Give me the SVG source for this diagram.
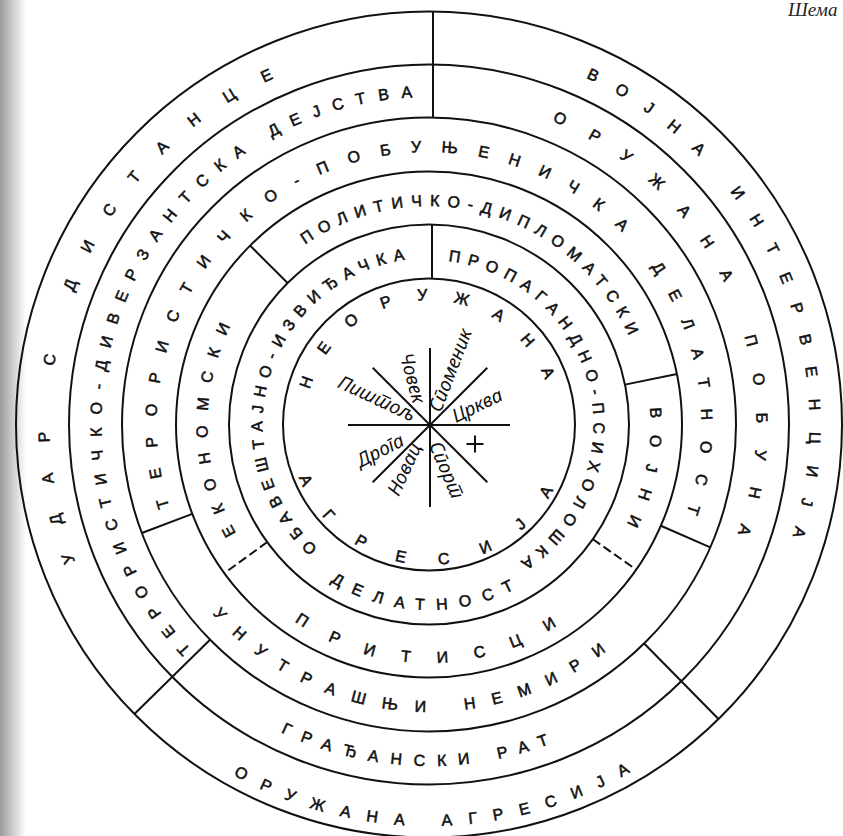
<svg xmlns="http://www.w3.org/2000/svg" width="843" height="836" viewBox="0 0 843 836">
<defs>
<linearGradient id="edge" x1="0" x2="1" y1="0" y2="0">
<stop offset="0" stop-color="#9c9c9c"/>
<stop offset="0.45" stop-color="#c9c9c9"/>
<stop offset="1" stop-color="#ffffff"/>
</linearGradient>
<path id="pA1" d="M85.90 586.68 A379.5 379.5 0 0 1 299.20 67.89"/>
<path id="pA2" d="M560.39 67.40 A380.5 380.5 0 0 1 783.75 562.10"/>
<path id="pA3" d="M207.98 759.69 A401.5 401.5 0 0 0 655.31 756.15"/>
<path id="pB1" d="M207.32 665.57 A327.5 327.5 0 0 1 435.29 97.06"/>
<path id="pB2" d="M530.75 113.20 A327.5 327.5 0 0 1 729.56 554.57"/>
<path id="pB3" d="M259.28 720.84 A341.5 341.5 0 0 0 571.70 734.76"/>
<path id="pC1" d="M175.28 523.93 A272.5 272.5 0 1 1 680.39 529.66"/>
<path id="pC2" d="M200.40 598.85 A287.5 287.5 0 0 0 621.00 638.49"/>
<path id="pD1" d="M243.23 545.14 A221.5 221.5 0 0 1 236.98 314.08"/>
<path id="pD2" d="M294.18 252.55 A218.5 218.5 0 0 1 633.80 348.34"/>
<path id="pD3" d="M648.40 394.06 A221.5 221.5 0 0 1 620.24 536.25"/>
<path id="pD4" d="M282.17 612.44 A238.5 238.5 0 0 0 569.52 617.21"/>
<path id="pE1" d="M324.22 553.89 A166.5 166.5 0 0 1 413.62 258.71"/>
<path id="pE2" d="M439.62 260.34 A164.5 164.5 0 0 1 513.00 565.95"/>
<path id="pE3" d="M321.81 575.89 A185.5 185.5 0 0 0 523.43 584.17"/>
<path id="pF1" d="M308.20 394.38 A124.5 124.5 0 0 1 546.93 384.58"/>
<path id="pF2" d="M296.56 471.40 A140.5 140.5 0 0 0 556.23 484.10"/>
</defs>
<style>
.ring{fill:none;stroke:#111;stroke-width:2}
.div{fill:none;stroke:#111;stroke-width:2}
.dash{stroke-dasharray:9 4}
.lbl{font-family:"Liberation Sans",Arial,sans-serif;font-size:16px;fill:#111;stroke:#111;stroke-width:0.55px;text-anchor:middle}
.cur{font-family:"Noto Sans",sans-serif;font-style:italic;font-size:19px;fill:#111;text-anchor:middle;dominant-baseline:central}
.title{font-family:"Liberation Serif",serif;font-style:italic;font-size:19px;fill:#222}
</style>
<rect x="0" y="0" width="843" height="836" fill="#ffffff"/>
<rect x="0" y="0" width="26" height="836" fill="url(#edge)"/>
<text class="title" x="788" y="16">Шема</text>

<g id="rings">
<circle class="ring" cx="429" cy="424.5" r="413"/>
<circle class="ring" cx="429" cy="424.5" r="360"/>
<circle class="ring" cx="429" cy="424.5" r="307"/>
<circle class="ring" cx="429" cy="424.5" r="253"/>
<circle class="ring" cx="429" cy="424.5" r="200"/>
<circle class="ring" cx="429" cy="424.5" r="146"/>
</g>

<g id="connectors">
<line class="div" x1="433" y1="11.5" x2="433" y2="117.5"/>
<line class="div" x1="210.03" y1="639.68" x2="134.43" y2="713.98"/>
<line class="div" x1="644.18" y1="643.47" x2="718.48" y2="719.07"/>
<line class="div" x1="192.33" y1="513.93" x2="141.82" y2="533.02"/>
<line class="div" x1="660.84" y1="525.79" x2="710.32" y2="547.41"/>
<line class="div" x1="287.58" y1="283.08" x2="250.10" y2="245.60"/>
<line class="div" x1="624.98" y1="384.63" x2="676.92" y2="374.06"/>
<line class="div dash" x1="267.20" y1="542.06" x2="224.32" y2="573.21"/>
<line class="div dash" x1="592.83" y1="539.22" x2="636.24" y2="569.61"/>
<line class="div" x1="432" y1="224.5" x2="432" y2="278.5"/>
</g>

<g id="ring-a">
<g id="udar-s-distance"><text class="lbl"><textPath href="#pA1" startOffset="50%" textLength="576" lengthAdjust="spacing">УДАР С ДИСТАНЦЕ</textPath></text></g>
<g id="vojna-intervencija"><text class="lbl"><textPath href="#pA2" startOffset="50%" textLength="549" lengthAdjust="spacing">ВОЈНА ИНТЕРВЕНЦИЈА</textPath></text></g>
<g id="oruzana-agresija"><text class="lbl"><textPath href="#pA3" startOffset="50%" textLength="415" lengthAdjust="spacing">ОРУЖАНА АГРЕСИЈА</textPath></text></g>
</g>

<g id="ring-b">
<g id="teroristicko-diverzantska"><text class="lbl"><textPath href="#pB1" startOffset="50%" textLength="745.5" lengthAdjust="spacing">ТЕРОРИСТИЧКО-ДИВЕРЗАНТСКА ДЕЈСТВА</textPath></text></g>
<g id="oruzana-pobuna"><text class="lbl"><textPath href="#pB2" startOffset="50%" textLength="498.6" lengthAdjust="spacing">ОРУЖАНА ПОБУНА</textPath></text></g>
<g id="gradjanski-rat"><text class="lbl"><textPath href="#pB3" startOffset="50%" textLength="276" lengthAdjust="spacing">ГРАЂАНСКИ РАТ</textPath></text></g>
</g>

<g id="ring-c">
<g id="teroristicko-pobunjenicka"><text class="lbl"><textPath href="#pC1" startOffset="50%" textLength="1029" lengthAdjust="spacing">ТЕРОРИСТИЧКО-ПОБУЊЕНИЧКА ДЕЛАТНОСТ</textPath></text></g>
<g id="unutrasnji-nemiri"><text class="lbl"><textPath href="#pC2" startOffset="50%" textLength="435.5" lengthAdjust="spacing">УНУТРАШЊИ НЕМИРИ</textPath></text></g>
</g>

<g id="ring-d">
<g id="ekonomski"><text class="lbl"><textPath href="#pD1" startOffset="50%" textLength="215.5" lengthAdjust="spacing">ЕКОНОМСКИ</textPath></text></g>
<g id="politicko-diplomatski"><text class="lbl"><textPath href="#pD2" startOffset="50%" textLength="383.6" lengthAdjust="spacing">ПОЛИТИЧКО-ДИПЛОМАТСКИ</textPath></text></g>
<g id="vojni"><text class="lbl"><textPath href="#pD3" startOffset="50%" textLength="120" lengthAdjust="spacing">ВОЈНИ</textPath></text></g>
<g id="pritisci"><text class="lbl"><textPath href="#pD4" startOffset="50%" textLength="277.8" lengthAdjust="spacing">ПРИТИСЦИ</textPath></text></g>
</g>

<g id="ring-e">
<g id="obavestajno-izvidjacka"><text class="lbl"><textPath href="#pE1" startOffset="50%" textLength="376.3" lengthAdjust="spacing">ОБАВЕШТАЈНО-ИЗВИЂАЧКА</textPath></text></g>
<g id="propagandno-psiholoska"><text class="lbl"><textPath href="#pE2" startOffset="50%" textLength="400.3" lengthAdjust="spacing">ПРОПАГАНДНО-ПСИХОЛОШКА</textPath></text></g>
<g id="delatnost"><text class="lbl"><textPath href="#pE3" startOffset="50%" textLength="192" lengthAdjust="spacing">ДЕЛАТНОСТ</textPath></text></g>
</g>

<g id="core">
<g id="neoruzana"><text class="lbl"><textPath href="#pF1" startOffset="50%" textLength="309.3" lengthAdjust="spacing">НЕОРУЖАНА</textPath></text></g>
<g id="agresija"><text class="lbl"><textPath href="#pF2" startOffset="50%" textLength="318.5" lengthAdjust="spacing">АГРЕСИЈА</textPath></text></g>
<g id="star">
<line class="div" x1="430" y1="348" x2="430" y2="507"/>
<line class="div" x1="348" y1="425" x2="510" y2="425"/>
<line class="div" x1="372.7" y1="367.7" x2="487.3" y2="482.3"/>
<line class="div" x1="487.3" y1="367.7" x2="372.7" y2="482.3"/>
<line class="div" x1="466.5" y1="444" x2="483.5" y2="444"/>
<line class="div" x1="475" y1="435.5" x2="475" y2="452.5"/>
</g>
<g id="star-labels" lang="sr">
<text class="cur" transform="translate(377 398) rotate(25)">Пиштољ</text>
<text class="cur" transform="translate(413 378) rotate(75)">Човек</text>
<text class="cur" transform="translate(450 370) rotate(-69)">Споменик</text>
<text class="cur" transform="translate(477 405) rotate(-26)">Црква</text>
<text class="cur" transform="translate(380 450) rotate(-27)">Дрога</text>
<text class="cur" transform="translate(404 469) rotate(-65)">Новац</text>
<text class="cur" transform="translate(447 470) rotate(67)">Спорт</text>
</g>
</g>
</svg>
